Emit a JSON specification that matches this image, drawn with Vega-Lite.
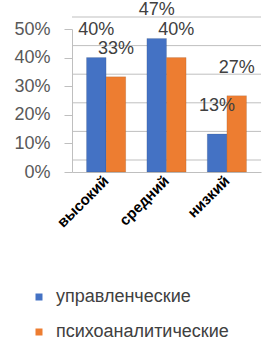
{
  "$schema": "https://vega.github.io/schema/vega-lite/v6.json",
  "autosize": "none",
  "width": 189,
  "height": 143,
  "padding": {"left": 72, "top": 29, "right": 3, "bottom": 168},
  "background": "white",
  "config": {
    "view": {"stroke": null},
    "font": "Liberation Sans",
    "axisY": {
      "labelOverlap": false, "grid": false, "labelFontSize": 18, "labelColor": "#595959",
      "tickSize": 8, "tickColor": "#BFBFBF", "domainColor": "#BFBFBF", "labelPadding": 14, "title": null
    }
  },
  "datasets": {
    "bars": [
      {"level": "высокий", "group": "управленческие", "share": 0.40},
      {"level": "высокий", "group": "психоаналитические", "share": 0.333},
      {"level": "средний", "group": "управленческие", "share": 0.467},
      {"level": "средний", "group": "психоаналитические", "share": 0.40},
      {"level": "низкий", "group": "управленческие", "share": 0.133},
      {"level": "низкий", "group": "психоаналитические", "share": 0.267}
    ],
    "grid": [
      {"tick": 0}, {"tick": 0.1}, {"tick": 0.2}, {"tick": 0.3}, {"tick": 0.4}, {"tick": 0.5}
    ]
  },
  "layer": [
    {
      "data": {"name": "grid"},
      "mark": {"type": "rule", "color": "#BFBFBF", "strokeWidth": 1, "yOffset": -12},
      "encoding": {
        "y": {"field": "tick", "type": "quantitative", "scale": {"domain": [0, 0.5], "nice": false},
          "axis": {"format": ".0%", "values": [0, 0.1, 0.2, 0.3, 0.4, 0.5], "tickCount": 6, "labelOverlap": false, "title": null}}
      }
    },
    {
      "data": {"name": "bars"},
      "mark": {"type": "bar", "stroke": "#00000033", "strokeWidth": 0.5},
      "encoding": {
        "x": {
          "field": "level", "type": "nominal", "sort": ["высокий", "средний", "низкий"],
          "scale": {"paddingInner": 0.35, "paddingOuter": 0.24},
          "axis": {
            "title": null, "labelAngle": -45, "labelAlign": "right", "labelBaseline": "middle",
            "labelFontSize": 15, "labelFontWeight": "bold", "labelColor": "#000000",
            "ticks": false, "labelPadding": 6, "domainColor": "#BFBFBF"
          }
        },
        "xOffset": {"field": "group", "type": "nominal", "sort": ["управленческие", "психоаналитические"]},
        "y": {
          "field": "share", "type": "quantitative",
          "axis": {"format": ".0%", "values": [0, 0.1, 0.2, 0.3, 0.4, 0.5], "tickCount": 6, "labelOverlap": false, "title": null}
        },
        "color": {
          "field": "group", "type": "nominal",
          "scale": {"domain": ["управленческие", "психоаналитические"], "range": ["#4472C4", "#ED7D31"]},
          "legend": {
            "title": null, "orient": "none", "legendX": -42, "legendY": 259, "padding": 0,
            "symbolType": "square", "symbolSize": 49, "symbolStrokeWidth": 0,
            "labelFontSize": 18, "labelColor": "#404040", "labelOffset": 8, "rowPadding": 17,
            "labelLimit": 300
          }
        }
      }
    },
    {
      "data": {"name": "bars"},
      "mark": {"type": "text", "fontSize": 18, "color": "#404040", "baseline": "middle", "dy": -28},
      "encoding": {
        "x": {"field": "level", "type": "nominal", "sort": ["высокий", "средний", "низкий"]},
        "xOffset": {"field": "group", "type": "nominal", "sort": ["управленческие", "психоаналитические"]},
        "y": {"field": "share", "type": "quantitative",
          "axis": {"format": ".0%", "values": [0, 0.1, 0.2, 0.3, 0.4, 0.5], "tickCount": 6, "labelOverlap": false, "title": null}},
        "text": {"field": "share", "type": "quantitative", "format": ".0%"}
      }
    }
  ]
}
